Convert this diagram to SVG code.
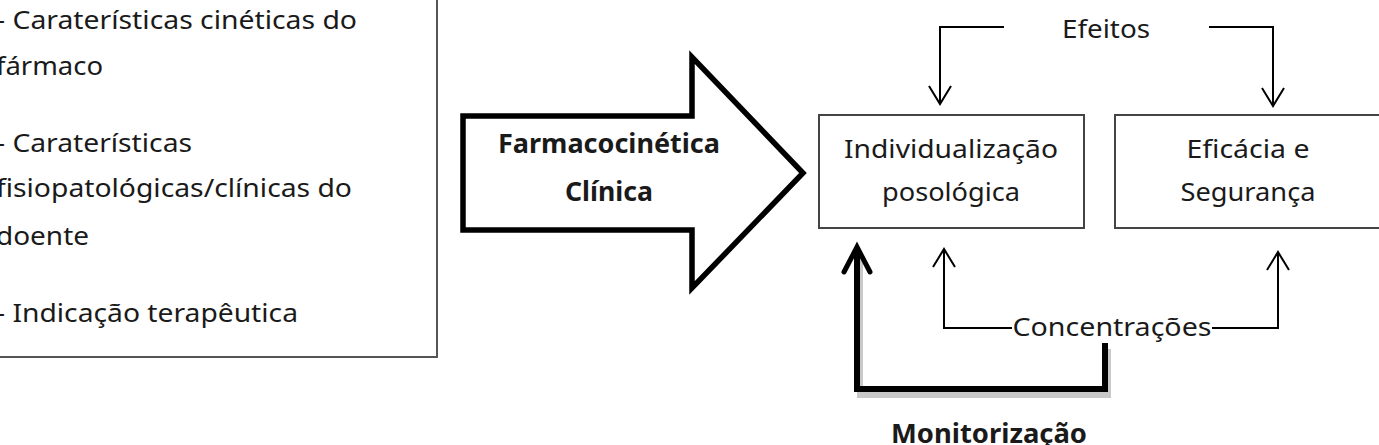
<svg xmlns="http://www.w3.org/2000/svg" width="1379" height="445" viewBox="0 0 1379 445">
<style>
text{font-family:"Noto Sans","Open Sans","Liberation Sans",sans-serif;fill:#1a1a1a}
.t{font-size:26px}
.b{font-size:26px;font-weight:bold}
.box{fill:#fff;stroke:#444;stroke-width:2}
.thin{fill:none;stroke:#000;stroke-width:2}
.thick{fill:none;stroke:#000;stroke-width:6;stroke-linejoin:miter}
.shadow{fill:none;stroke:#888;stroke-width:6;opacity:0.45}
</style>
<defs>
<marker id="ah" markerUnits="userSpaceOnUse" viewBox="-20 -14 22 28" markerWidth="22" markerHeight="28" refX="0" refY="0" orient="auto" overflow="visible">
<path d="M-18,-11 L0,0 L-18,11" fill="none" stroke="#000" stroke-width="2"/>
</marker>
<marker id="ahb" markerUnits="userSpaceOnUse" viewBox="-28 -16 30 32" markerWidth="30" markerHeight="32" refX="0" refY="0" orient="auto" overflow="visible">
<path d="M-25,-13 L0,0 L-25,13" fill="none" stroke="#000" stroke-width="5" stroke-linecap="round"/>
</marker>
</defs>
<rect width="1379" height="445" fill="#fff"/>
<g id="factors">
<rect x="-10" y="-10" width="447" height="367" fill="#fff" stroke="#555" stroke-width="2"/>
<text class="t" x="-4" y="29" textLength="361" lengthAdjust="spacingAndGlyphs">- Caraterísticas cinéticas do</text>
<text class="t" x="-4" y="75" textLength="107" lengthAdjust="spacingAndGlyphs">fármaco</text>
<text class="t" x="-4" y="152" textLength="196" lengthAdjust="spacingAndGlyphs">- Caraterísticas</text>
<text class="t" x="-4" y="197" textLength="356" lengthAdjust="spacingAndGlyphs">fisiopatológicas/clínicas do</text>
<text class="t" x="-4" y="245" textLength="93" lengthAdjust="spacingAndGlyphs">doente</text>
<text class="t" x="-4" y="322" textLength="302" lengthAdjust="spacingAndGlyphs">- Indicação terapêutica</text>
</g>
<g id="pk-arrow">
<polygon points="463,116 692,116 692,57 803,173 692,288 692,230 463,230" fill="#fff" stroke="#000" stroke-width="5.5" stroke-linejoin="miter"/>
<text class="b" x="609" y="153" text-anchor="middle" textLength="222" lengthAdjust="spacingAndGlyphs">Farmacocinética</text>
<text class="b" x="609" y="201" text-anchor="middle" textLength="88" lengthAdjust="spacingAndGlyphs">Clínica</text>
</g>
<g id="individualizacao">
<rect class="box" x="819" y="115" width="265" height="113"/>
<text class="t" x="951" y="158" text-anchor="middle" textLength="214" lengthAdjust="spacingAndGlyphs">Individualização</text>
<text class="t" x="951" y="201" text-anchor="middle" textLength="138" lengthAdjust="spacingAndGlyphs">posológica</text>
</g>
<g id="eficacia">
<rect class="box" x="1115" y="115" width="265" height="113"/>
<text class="t" x="1248" y="158" text-anchor="middle" textLength="123" lengthAdjust="spacingAndGlyphs">Eficácia e</text>
<text class="t" x="1248" y="201" text-anchor="middle" textLength="135" lengthAdjust="spacingAndGlyphs">Segurança</text>
</g>
<g id="labels">
<text class="t" x="1106" y="38" text-anchor="middle" textLength="88" lengthAdjust="spacingAndGlyphs">Efeitos</text>
<text class="t" x="1112" y="336" text-anchor="middle" textLength="199" lengthAdjust="spacingAndGlyphs">Concentrações</text>
<text class="b" x="989" y="443" text-anchor="middle" textLength="196" lengthAdjust="spacingAndGlyphs">Monitorização</text>
</g>
<g id="connectors">
<path class="thin" d="M1004,27 H940 V104" marker-end="url(#ah)"/>
<path class="thin" d="M1209,27 H1273 V106" marker-end="url(#ah)"/>
<path class="thin" d="M1012,328 H944 V249" marker-end="url(#ah)"/>
<path class="thin" d="M1212,328 H1278 V252" marker-end="url(#ah)"/>
<path class="shadow" d="M1107,346 V392 H859 V250" transform="translate(1,3)"/>
<path class="thick" d="M1105,343 V389 H857 V247" marker-end="url(#ahb)"/>
</g>
</svg>
